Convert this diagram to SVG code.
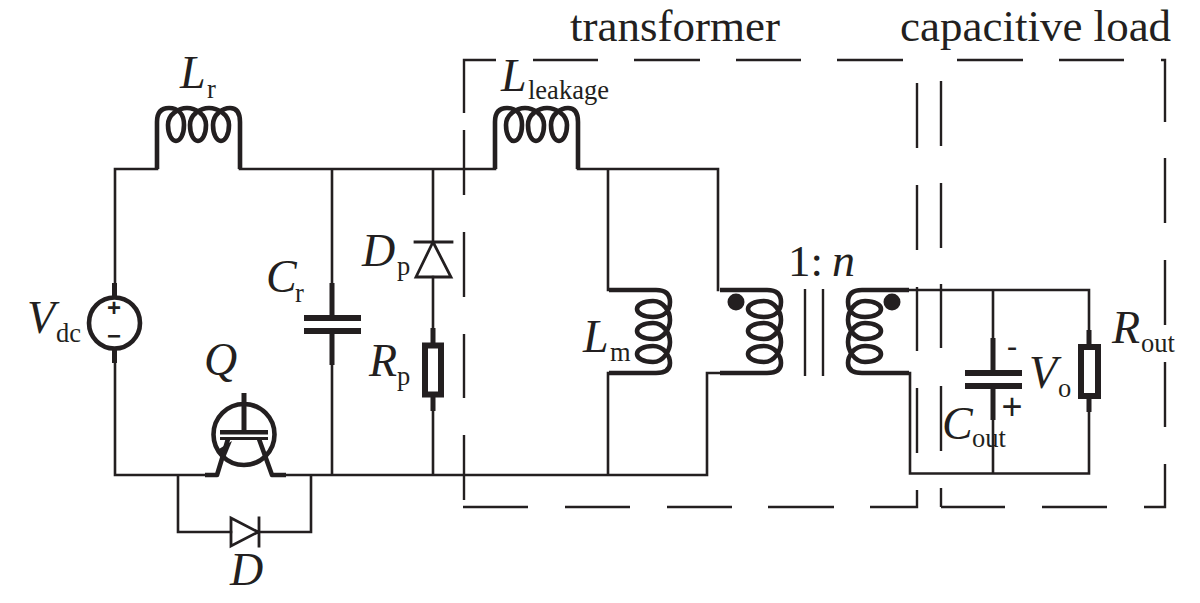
<svg xmlns="http://www.w3.org/2000/svg" xmlns:xlink="http://www.w3.org/1999/xlink" width="1200" height="603" viewBox="0 0 1200 603">
<style>
text{font-family:"Liberation Serif","Times New Roman",serif;fill:#231f20}
.w{fill:none;stroke:#231f20;stroke-width:2.6;stroke-linecap:square;stroke-linejoin:miter}
.t{fill:none;stroke:#231f20;stroke-width:5}
.c{fill:none;stroke:#231f20;stroke-width:4.6;stroke-linejoin:round}
.d{fill:none;stroke:#231f20;stroke-width:2.4}
.p{fill:#231f20;stroke:none}
.m{font-size:46px;font-style:italic}
.s{font-size:26.500px;font-style:normal}
.h{font-size:45px}
.g{font-family:"Liberation Sans",sans-serif}
</style>
<defs>
<path id="coil" class="c" d="M0,0V-47Q0,-61 12,-61C21,-61 27,-55 27,-44C27,-34 23,-28 19,-28C15,-28 11,-34 11,-44C11,-55 22,-61 30,-61C38,-61 49,-55 49,-44C49,-34 45,-28 41,-28C37,-28 33,-34 33,-44C33,-55 44,-61 52,-61C60,-61 72,-55 72,-44C72,-34 68,-28 64,-28C60,-28 56,-34 56,-44C56,-55 66,-61 73,-61Q83,-61 83,-47V0"/>
</defs>
<g id="connectors">
<path class="w" d="M157,169H115V283M115,363V475H204M240,169H495M578,169H718V290M608,169V290M608,373V475M286,475H707V373H720M909,290H1089V330M910,373V473.500H1089V412M178,475V532H231M259,532H311V475M332,169V283M332,365V475M433,169V242M433,277V328M433,411V475M993,290V338M993,420V473"/>
</g>
<g id="Lr"><use xlink:href="#coil" href="#coil" transform="translate(157,169)"/></g>
<g id="Lleakage"><use xlink:href="#coil" href="#coil" transform="translate(495,169)"/></g>
<g id="Lm"><use xlink:href="#coil" href="#coil" transform="translate(609,290) rotate(90)"/></g>
<g id="primary"><use xlink:href="#coil" href="#coil" transform="translate(720,290) rotate(90)"/><circle class="p" cx="736" cy="302" r="8.500"/></g>
<g id="secondary"><use xlink:href="#coil" href="#coil" transform="matrix(0,1,1,0,909,290)"/><circle class="p" cx="892" cy="302" r="8.500"/></g>
<g id="core"><path class="d" d="M805,289V376M823,289V376"/></g>
<g id="Vdc"><circle class="c" cx="114.500" cy="323" r="25.500"/><path class="t" d="M114.500,283V297M114.500,349V363"/><text class="g" x="114" y="316" text-anchor="middle" style="font-size:24px;font-weight:bold">+</text><text class="g" x="114" y="344" text-anchor="middle" style="font-size:24px;font-weight:bold">−</text></g>
<g id="Cr"><path class="t" d="M332,283V318M332,331V365"/><path class="p" d="M304,315H361V321H304ZM304,328H361V334H304Z"/></g>
<g id="Dp"><path class="w" d="M415,242H452M433,242L416,277H451Z" style="stroke-width:2.800"/></g>
<g id="Rp"><path class="t" d="M433,328V344M433,396V411"/><rect x="425" y="345.500" width="16" height="49" style="fill:#fff;stroke:#231f20;stroke-width:6"/></g>
<g id="Q"><circle class="c" cx="244" cy="434.500" r="30.500"/><path class="t" d="M244,393V431"/><path class="p" d="M220,430H268V434.500H220ZM220,437H268V440H220Z"/><path class="c" d="M228,439L217,475H205M259,439L272,475H286"/><path class="p" d="M232,441L225,458L219,449Z"/></g>
<g id="D"><path class="w" d="M231,518L258,532L231,546ZM259,518V546" style="stroke-width:2.800"/></g>
<g id="Cout"><path class="t" d="M993,338V372M993,386V420"/><path class="p" d="M965,370H1022V376H965ZM965,383H1022V389H965Z"/></g>
<g id="Rout"><path class="t" d="M1089,330V345M1089,398V412"/><rect x="1081" y="347" width="17" height="49" style="fill:#fff;stroke:#231f20;stroke-width:6"/></g>
<g id="transformer-box"><path class="d" d="M496,60H464V113M464,130V195M464,232V297M464,334V398M464,435V500M463,507H528M565,507H630M667,507H732M768,507H834M870,507H917V490M917,453V388M917,351V287M917,250V185M917,148V83M533,60H598M634,60H700M736,60H801M837,60H903"/></g>
<g id="load-box"><path class="d" d="M941,507V488M941,451V386M941,348V284M941,248V183M941,146V81M957,60H1023M1059,60H1124M1161,60H1165V122M1165,158V223M1165,260V325M1165,362V427M1165,464V507H1144M1107,507H1042M1005,507H941"/></g>
<g id="labels">
<text class="h" x="570" y="41">transformer</text>
<text class="h" x="900" y="41">capacitive load</text>
<text class="m" x="180" y="88">L<tspan class="s" x="207" y="98">r</tspan></text>
<text class="m" x="27" y="333">V<tspan class="s" x="56" y="342">dc</tspan></text>
<text class="m" x="266" y="292">C<tspan class="s" x="295" y="302">r</tspan></text>
<text class="m" x="362" y="266">D<tspan class="s" x="397" y="275">p</tspan></text>
<text class="m" x="369" y="376">R<tspan class="s" x="397" y="385">p</tspan></text>
<text class="m" x="204" y="375">Q</text>
<text class="m" x="230" y="585">D</text>
<text class="m" x="501" y="91">L<tspan class="s" x="528" y="99">leakage</tspan></text>
<text class="m" x="583" y="352">L<tspan class="s" x="610" y="361">m</tspan></text>
<text style="font-size:45px" x="788" y="276">1:<tspan class="m" x="832">n</tspan></text>
<text class="m" x="1029" y="388">V<tspan class="s" x="1058" y="397">o</tspan></text>
<text class="m" x="942" y="439">C<tspan class="s" x="972" y="447">out</tspan></text>
<text class="m" x="1112" y="343">R<tspan class="s" x="1141" y="352">out</tspan></text>
<text class="g" x="1012" y="357" text-anchor="middle" style="font-size:32px">-</text>
<text class="g" x="1012" y="419" text-anchor="middle" style="font-size:36px">+</text>
</g>
</svg>
